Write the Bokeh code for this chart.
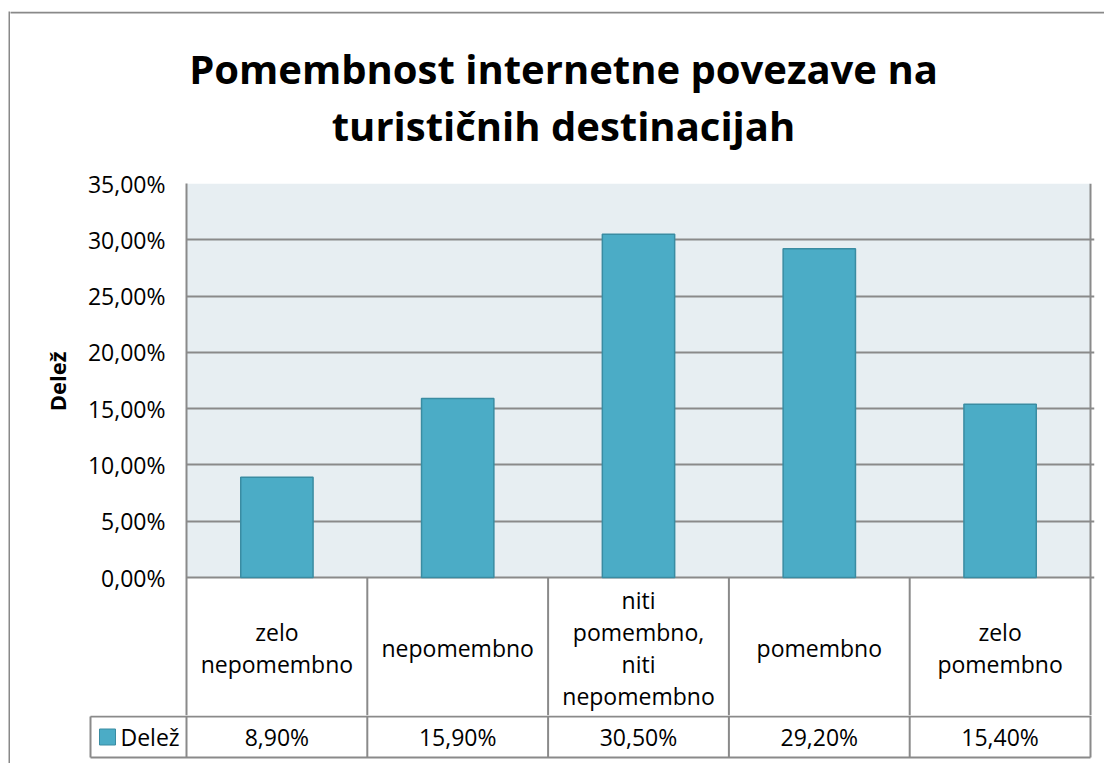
import math
from bokeh.plotting import figure
from bokeh.models import (Range1d, FixedTicker, CustomJSTickFormatter, BoxAnnotation,
                          ColumnDataSource, Spacer)
from bokeh.layouts import column, row
from bokeh.core.properties import value
from bokeh.embed import file_html
from bokeh.resources import INLINE

# ---- data ----
categories = ["zelo nepomembno", "nepomembno", "niti pomembno, niti nepomembno",
              "pomembno", "zelo pomembno"]
table_labels = ["zelo\nnepomembno", "nepomembno", "niti\npomembno,\nniti\nnepomembno",
                "pomembno", "zelo\npomembno"]
values = [8.90, 15.90, 30.50, 29.20, 15.40]
series_name = "Delež"
y_ticks = [0, 5, 10, 15, 20, 25, 30, 35]
title_lines = ["Pomembnost internetne povezave na", "turističnih destinacijah"]

FONT = "Open Sans"
BAR = "#4BACC6"
BAR_LINE = "#3A8CA2"
GRID = "#8A8A8A"
FRAME_LINE = "#898989"
BG = "#E7EEF2"

PX_PER_CAT = 904 / 5.0          # pixels per category slot
PX_PER_PCT = 394 / 35.0         # pixels per percent
n = len(categories)
xpos = [i + 0.5 for i in range(n)]


def blank(fig):
    fig.outline_line_color = None
    fig.xgrid.visible = False
    fig.ygrid.visible = False
    fig.frame_align = False


# ---- outer border (left edge) ----
vline = figure(width=2, height=752, x_range=Range1d(0, 1), y_range=Range1d(0, 1),
               output_backend="svg", toolbar_location=None, x_axis_type=None,
               y_axis_type=None, min_border=0)
blank(vline)
vline.background_fill_color = FRAME_LINE
vline.border_fill_color = FRAME_LINE

# ---- title (with the top edge of the outer border) ----
tf = figure(width=1094, height=149, x_range=Range1d(10, 1104), y_range=Range1d(160, 11),
            output_backend="svg", toolbar_location=None, x_axis_type=None,
            y_axis_type=None, min_border=0)
blank(tf)
tf.background_fill_color = "white"
tf.border_fill_color = "white"
tf.multi_line(xs=[[0, 1110]], ys=[[12, 12]], line_color=FRAME_LINE, line_width=2)
tf.text(x=[563, 563], y=[68, 125], text=title_lines, text_align="center",
        text_baseline="middle", text_font=value(FONT), text_font_size="40px",
        text_font_style="bold", text_color="black")

# ---- y axis title ----
yl = figure(width=74, height=555, x_range=Range1d(10, 84), y_range=Range1d(715, 160),
            output_backend="svg", toolbar_location=None, x_axis_type=None,
            y_axis_type=None, min_border=0)
blank(yl)
yl.text(x=[56], y=[381], text=[series_name], angle=math.pi / 2, text_align="center",
        text_baseline="middle", text_font=value(FONT), text_font_size="22px",
        text_font_style="bold", text_color="black")

# ---- main chart (plot area + category row of the data table) ----
row_h = 138 / PX_PER_PCT
right_ext = 4 / PX_PER_CAT
p = figure(width=1020, height=555, x_range=Range1d(0, n + right_ext),
           y_range=Range1d(-row_h, 35), output_backend="svg", toolbar_location=None,
           min_border_left=102, min_border_right=10, min_border_top=23, min_border_bottom=0)
p.frame_align = False
p.background_fill_color = "white"
p.border_fill_color = "white"
p.outline_line_color = None
p.xaxis.visible = False
p.xgrid.visible = False
p.ygrid.grid_line_color = GRID
p.ygrid.grid_line_width = 2
p.yaxis.ticker = FixedTicker(ticks=y_ticks)
p.ygrid.ticker = FixedTicker(ticks=y_ticks)
p.yaxis.formatter = CustomJSTickFormatter(code="return tick.toFixed(2).replace('.', ',') + '%';")
p.yaxis.major_tick_line_color = None
p.yaxis.major_tick_out = 0
p.yaxis.major_tick_in = 0
p.yaxis.minor_tick_line_color = None
p.yaxis.minor_tick_out = 0
p.yaxis.axis_line_color = GRID
p.yaxis.axis_line_width = 2
p.yaxis.major_label_standoff = 21
p.yaxis.major_label_text_font = FONT
p.yaxis.major_label_text_font_size = "23px"
p.yaxis.major_label_text_color = "black"

p.add_layout(BoxAnnotation(left=0, right=n, bottom=0, top=35, fill_color=BG,
                           fill_alpha=1.0, line_color=None, level="image"))

src = ColumnDataSource(dict(x=xpos, val=values, cat=categories))
p.vbar(x="x", top="val", width=0.4, source=src, fill_color=BAR,
       line_color=BAR_LINE, line_width=1.5)

# plot-area right border + category cell separators
p.multi_line(xs=[[n, n]] + [[i, i] for i in range(1, n)],
             ys=[[-row_h, 35]] + [[-row_h, 0] for _ in range(1, n)],
             line_color=GRID, line_width=2)
p.text(x=xpos, y=[-(647 - 577) / PX_PER_PCT] * n, text=table_labels, text_align="center",
       text_baseline="middle", text_font=value(FONT), text_font_size="23px",
       text_color="black", text_line_height=1.0)

# ---- value row of the data table ----
left_ext = 98 / PX_PER_CAT
t = figure(width=1094, height=48, x_range=Range1d(-left_ext, n + right_ext),
           y_range=Range1d(48, 0), output_backend="svg", toolbar_location=None,
           min_border_left=78, min_border_right=10, min_border_top=0, min_border_bottom=0,
           x_axis_type=None, y_axis_type=None)
blank(t)
t.background_fill_color = "white"
t.border_fill_color = "white"
cell_left = -96 / PX_PER_CAT
top_y, bot_y = 1, 42
xs = [[i, i] for i in range(n + 1)] + [[cell_left, cell_left]]
ys = [[0, bot_y] for _ in range(n + 1)] + [[top_y, bot_y]]
xs += [[cell_left, n], [cell_left, n]]
ys += [[top_y, top_y], [bot_y, bot_y]]
t.multi_line(xs=xs, ys=ys, line_color=GRID, line_width=2)

val_labels = [f"{v:.2f}".replace(".", ",") + "%" for v in values]
mid_y = (top_y + bot_y) / 2.0
t.text(x=xpos, y=[mid_y] * n, text=val_labels, text_align="center",
       text_baseline="middle", text_font=value(FONT), text_font_size="23px",
       text_color="black")
t.scatter(x=[(107 - 186) / PX_PER_CAT], y=[mid_y], marker="square", size=16,
          fill_color=BAR, line_color=BAR_LINE, line_width=1)
t.text(x=[(120 - 186) / PX_PER_CAT], y=[mid_y], text=[series_name], text_align="left",
       text_baseline="middle", text_font=value(FONT), text_font_size="23px",
       text_color="black")

inner = column(tf, row(yl, p, spacing=0), t, spacing=0)
layout = column(Spacer(width=1104, height=11),
                row(Spacer(width=8, height=752), vline, inner, spacing=0),
                spacing=0)

open("out.html", "w").write(file_html(layout, INLINE))
